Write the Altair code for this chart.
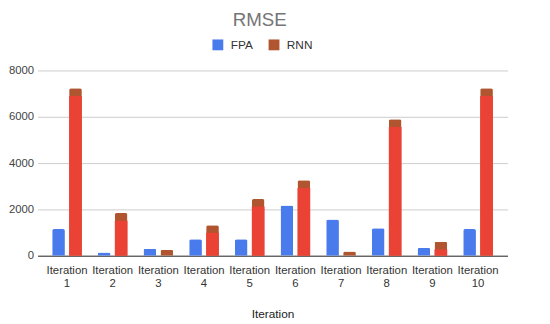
import altair as alt
import pandas as pd

categories = [f"Iteration {i}" for i in range(1, 11)]
fpa = [1150, 140, 300, 710, 710, 2170, 1560, 1190, 340, 1150]
rnn = [7230, 1840, 260, 1320, 2450, 3260, 185, 5890, 600, 7230]
series = ["FPA", "RNN"]

rows = []
for c, a, b in zip(categories, fpa, rnn):
    rows.append({"Iteration": c, "series": "FPA", "value": a})
    rows.append({"Iteration": c, "series": "RNN", "value": b})
df = pd.DataFrame(rows)

FONT = "Liberation Sans"

x = alt.X("Iteration:N", sort=categories,
          scale=alt.Scale(paddingInner=0.35, paddingOuter=0.32),
          axis=alt.Axis(title="Iteration", labelAngle=0, labelExpr="split(datum.label, ' ')",
                        labelPadding=9, labelLineHeight=13, labelFontSize=11.5, labelColor="#333",
                        ticks=False, domainColor="#333", domainWidth=1,
                        titleFontSize=12, titleFontWeight="normal", titleColor="#222",
                        titlePadding=20, labelFont=FONT, titleFont=FONT))
xo = alt.XOffset("series:N", sort=series, scale=alt.Scale(paddingInner=0.25, paddingOuter=0))
y = alt.Y("value:Q", scale=alt.Scale(domain=[0, 8000]),
          axis=alt.Axis(title=None, values=[0, 2000, 4000, 6000, 8000], format="d",
                        domain=False, ticks=False,
                        gridColor="#cccccc", labelFontSize=11.5, labelColor="#444", labelPadding=4,
                        labelFont=FONT))

base = alt.Chart(df)

full = base.mark_bar(cornerRadiusTopLeft=2, cornerRadiusTopRight=2).encode(
    x=x, xOffset=xo, y=y,
    color=alt.Color("series:N", sort=series,
                    scale=alt.Scale(domain=series, range=["#4a7bec", "#b0552f"]),
                    legend=alt.Legend(title=None, orient="none", legendX=177, legendY=-32,
                                      direction="horizontal", symbolType="square", symbolSize=121,
                                      symbolStrokeWidth=0, labelFontSize=12, labelColor="#333",
                                      labelFont=FONT, labelOffset=7, columnPadding=15)),
)

inner = base.transform_filter(alt.datum.series == "RNN").transform_calculate(
    inner="max(datum.value - 330, 0)"
).mark_bar(color="#ea4335").encode(
    x=x, xOffset=xo, y=alt.Y("inner:Q"),
)

chart = alt.layer(full, inner).properties(
    width=477, height=188,
    autosize=alt.AutoSizeParams(type="none"),
    padding={"left": 30, "top": 61, "right": 35, "bottom": 75},
    title=alt.TitleParams("RMSE", fontSize=19, fontWeight="normal", color="#757575", font=FONT,
                          anchor="middle", dx=-13, offset=9),
).configure_view(stroke=None)

chart.save("out.html", embed_options={"renderer": "svg", "actions": False})
